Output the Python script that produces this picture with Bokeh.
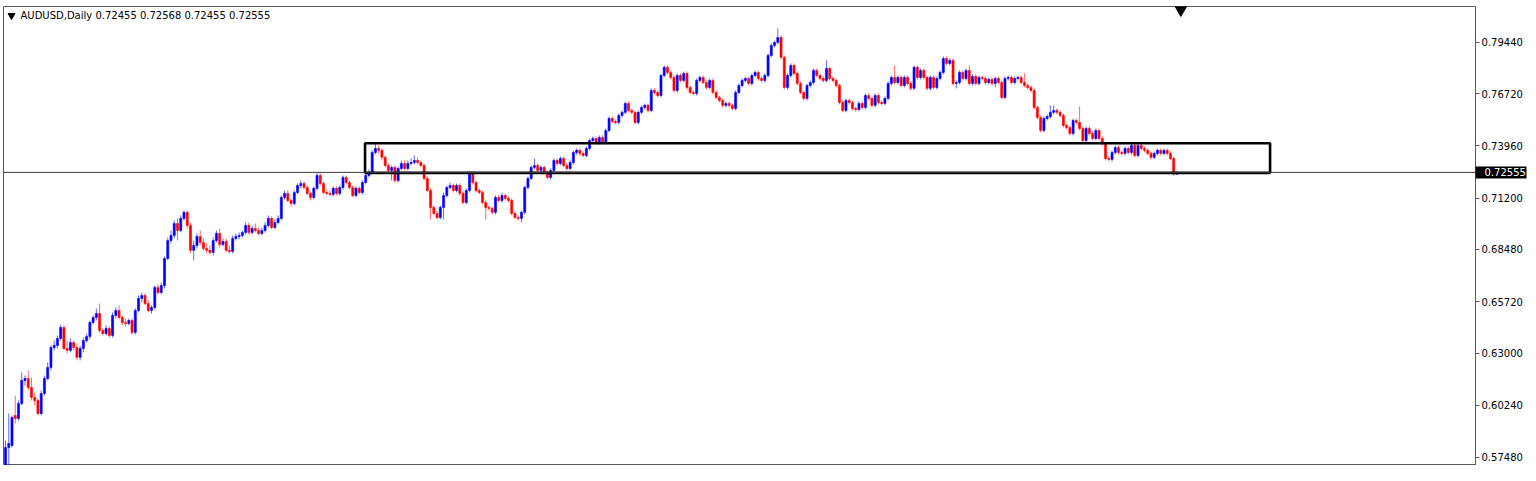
from bokeh.plotting import figure
from bokeh.models import Span, Label, FixedTicker, PrintfTickFormatter, Range1d, LinearAxis
from bokeh.embed import file_html
from bokeh.resources import INLINE

symbol = "AUDUSD,Daily"
last_ohlc = [0.72455, 0.72568, 0.72455, 0.72555]
price_ticks = [0.57480, 0.60240, 0.63000, 0.65720, 0.68480, 0.71200, 0.73960, 0.76720, 0.79440]
bid = 0.72555

opens = [
    0.5652, 0.5800, 0.5811, 0.5970, 0.5954, 0.6033, 0.6155, 0.6165, 0.6118, 0.6065,
    0.6049, 0.5980, 0.6086, 0.6165, 0.6224, 0.6329, 0.6340, 0.6377, 0.6435, 0.6324,
    0.6314, 0.6356, 0.6329, 0.6277, 0.6324, 0.6366, 0.6388, 0.6462, 0.6488, 0.6509,
    0.6419, 0.6403, 0.6430, 0.6393, 0.6499, 0.6525, 0.6488, 0.6462, 0.6456, 0.6472,
    0.6409, 0.6525, 0.6589, 0.6604, 0.6562, 0.6525, 0.6541, 0.6647, 0.6620, 0.6657,
    0.6800, 0.6895, 0.6922, 0.6985, 0.6948, 0.7012, 0.7044, 0.6975, 0.6843, 0.6869,
    0.6917, 0.6885, 0.6853, 0.6843, 0.6832, 0.6895, 0.6932, 0.6874, 0.6890, 0.6843,
    0.6837, 0.6906, 0.6917, 0.6922, 0.6938, 0.6975, 0.6938, 0.6959, 0.6948, 0.6932,
    0.6948, 0.6975, 0.7012, 0.6964, 0.6991, 0.7012, 0.7123, 0.7144, 0.7107, 0.7091,
    0.7149, 0.7186, 0.7197, 0.7176, 0.7144, 0.7123, 0.7171, 0.7239, 0.7197, 0.7149,
    0.7144, 0.7139, 0.7171, 0.7144, 0.7176, 0.7229, 0.7202, 0.7176, 0.7133, 0.7171,
    0.7149, 0.7202, 0.7239, 0.7255, 0.7361, 0.7382, 0.7372, 0.7335, 0.7292, 0.7266,
    0.7282, 0.7213, 0.7276, 0.7303, 0.7276, 0.7303, 0.7308, 0.7319, 0.7308, 0.7292,
    0.7223, 0.7160, 0.7070, 0.7038, 0.7017, 0.7070, 0.7133, 0.7176, 0.7186, 0.7160,
    0.7186, 0.7144, 0.7096, 0.7160, 0.7250, 0.7202, 0.7160, 0.7149, 0.7096, 0.7070,
    0.7065, 0.7044, 0.7123, 0.7107, 0.7133, 0.7118, 0.7107, 0.7038, 0.7017, 0.7012,
    0.7044, 0.7176, 0.7223, 0.7282, 0.7292, 0.7266, 0.7282, 0.7255, 0.7229, 0.7266,
    0.7319, 0.7303, 0.7329, 0.7292, 0.7276, 0.7308, 0.7361, 0.7372, 0.7356, 0.7345,
    0.7382, 0.7424, 0.7435, 0.7414, 0.7440, 0.7414, 0.7477, 0.7541, 0.7525, 0.7520,
    0.7557, 0.7573, 0.7620, 0.7583, 0.7573, 0.7520, 0.7573, 0.7599, 0.7610, 0.7583,
    0.7689, 0.7678, 0.7662, 0.7768, 0.7811, 0.7784, 0.7758, 0.7689, 0.7768, 0.7742,
    0.7779, 0.7705, 0.7678, 0.7673, 0.7742, 0.7758, 0.7731, 0.7705, 0.7742, 0.7678,
    0.7652, 0.7636, 0.7610, 0.7620, 0.7610, 0.7594, 0.7678, 0.7715, 0.7742, 0.7752,
    0.7726, 0.7768, 0.7784, 0.7752, 0.7742, 0.7768, 0.7874, 0.7927, 0.7943, 0.7969,
    0.7864, 0.7705, 0.7768, 0.7821, 0.7779, 0.7726, 0.7678, 0.7647, 0.7715, 0.7731,
    0.7795, 0.7768, 0.7752, 0.7742, 0.7805, 0.7752, 0.7742, 0.7715, 0.7625, 0.7583,
    0.7636, 0.7625, 0.7594, 0.7588, 0.7620, 0.7599, 0.7662, 0.7647, 0.7610, 0.7662,
    0.7625, 0.7620, 0.7647, 0.7726, 0.7758, 0.7731, 0.7758, 0.7715, 0.7758, 0.7726,
    0.7700, 0.7811, 0.7758, 0.7795, 0.7758, 0.7700, 0.7758, 0.7705, 0.7752, 0.7784,
    0.7858, 0.7832, 0.7848, 0.7726, 0.7731, 0.7784, 0.7752, 0.7795, 0.7726, 0.7763,
    0.7726, 0.7758, 0.7752, 0.7731, 0.7747, 0.7726, 0.7752, 0.7731, 0.7652, 0.7752,
    0.7758, 0.7731, 0.7752, 0.7758, 0.7731, 0.7715, 0.7705, 0.7689, 0.7599, 0.7546,
    0.7477, 0.7541, 0.7551, 0.7573, 0.7583, 0.7573, 0.7557, 0.7504, 0.7493, 0.7461,
    0.7530, 0.7520, 0.7488, 0.7424, 0.7488, 0.7461, 0.7435, 0.7477, 0.7435, 0.7409,
    0.7329, 0.7324, 0.7361, 0.7387, 0.7361, 0.7356, 0.7382, 0.7361, 0.7398, 0.7345,
    0.7398, 0.7382, 0.7372, 0.7356, 0.7335, 0.7356, 0.7372, 0.7356, 0.7372, 0.7356,
    0.7329, 0.72455,
]

highs = [
    0.5837, 0.5980, 0.5970, 0.6075, 0.6049, 0.6197, 0.6181, 0.6208, 0.6171, 0.6091,
    0.6060, 0.6102, 0.6181, 0.6250, 0.6340, 0.6366, 0.6393, 0.6451, 0.6446, 0.6366,
    0.6377, 0.6366, 0.6351, 0.6340, 0.6382, 0.6403, 0.6472, 0.6499, 0.6536, 0.6562,
    0.6430, 0.6446, 0.6441, 0.6515, 0.6541, 0.6552, 0.6499, 0.6483, 0.6483, 0.6483,
    0.6536, 0.6604, 0.6620, 0.6615, 0.6578, 0.6552, 0.6657, 0.6663, 0.6673, 0.6811,
    0.6911, 0.6948, 0.7001, 0.7012, 0.7028, 0.7054, 0.7054, 0.6991, 0.6895, 0.6932,
    0.6948, 0.6906, 0.6880, 0.6869, 0.6911, 0.6948, 0.6959, 0.6906, 0.6906, 0.6869,
    0.6922, 0.6932, 0.6938, 0.6948, 0.6991, 0.6991, 0.6975, 0.6985, 0.6964, 0.6964,
    0.6991, 0.7028, 0.7022, 0.7007, 0.7028, 0.7133, 0.7160, 0.7160, 0.7118, 0.7160,
    0.7197, 0.7213, 0.7208, 0.7186, 0.7155, 0.7181, 0.7255, 0.7250, 0.7208, 0.7165,
    0.7160, 0.7181, 0.7181, 0.7186, 0.7239, 0.7239, 0.7213, 0.7186, 0.7181, 0.7181,
    0.7213, 0.7250, 0.7271, 0.7372, 0.7409, 0.7398, 0.7382, 0.7345, 0.7303, 0.7292,
    0.7292, 0.7287, 0.7319, 0.7319, 0.7319, 0.7329, 0.7345, 0.7335, 0.7319, 0.7303,
    0.7234, 0.7171, 0.7081, 0.7054, 0.7081, 0.7149, 0.7186, 0.7202, 0.7197, 0.7197,
    0.7197, 0.7155, 0.7171, 0.7260, 0.7260, 0.7213, 0.7171, 0.7160, 0.7107, 0.7081,
    0.7075, 0.7133, 0.7139, 0.7149, 0.7144, 0.7128, 0.7118, 0.7049, 0.7028, 0.7054,
    0.7186, 0.7234, 0.7292, 0.7329, 0.7303, 0.7292, 0.7292, 0.7266, 0.7276, 0.7329,
    0.7329, 0.7340, 0.7340, 0.7303, 0.7319, 0.7372, 0.7382, 0.7382, 0.7366, 0.7393,
    0.7435, 0.7446, 0.7446, 0.7451, 0.7451, 0.7488, 0.7551, 0.7551, 0.7536, 0.7567,
    0.7583, 0.7631, 0.7631, 0.7594, 0.7583, 0.7583, 0.7610, 0.7620, 0.7620, 0.7700,
    0.7700, 0.7689, 0.7779, 0.7821, 0.7821, 0.7795, 0.7768, 0.7779, 0.7779, 0.7789,
    0.7789, 0.7715, 0.7689, 0.7752, 0.7768, 0.7768, 0.7742, 0.7752, 0.7752, 0.7689,
    0.7662, 0.7647, 0.7631, 0.7631, 0.7620, 0.7689, 0.7726, 0.7752, 0.7763, 0.7763,
    0.7779, 0.7795, 0.7795, 0.7763, 0.7779, 0.7885, 0.7938, 0.7953, 0.8017, 0.7980,
    0.7874, 0.7779, 0.7832, 0.7832, 0.7789, 0.7737, 0.7689, 0.7726, 0.7742, 0.7805,
    0.7805, 0.7779, 0.7763, 0.7848, 0.7816, 0.7763, 0.7752, 0.7726, 0.7636, 0.7647,
    0.7647, 0.7636, 0.7604, 0.7631, 0.7631, 0.7673, 0.7673, 0.7657, 0.7673, 0.7673,
    0.7636, 0.7657, 0.7737, 0.7768, 0.7821, 0.7768, 0.7768, 0.7768, 0.7768, 0.7737,
    0.7821, 0.7821, 0.7805, 0.7805, 0.7768, 0.7768, 0.7768, 0.7763, 0.7795, 0.7869,
    0.7869, 0.7858, 0.7858, 0.7742, 0.7795, 0.7795, 0.7805, 0.7821, 0.7774, 0.7774,
    0.7768, 0.7768, 0.7763, 0.7758, 0.7758, 0.7763, 0.7763, 0.7742, 0.7763, 0.7768,
    0.7768, 0.7763, 0.7768, 0.7768, 0.7779, 0.7726, 0.7715, 0.7700, 0.7610, 0.7557,
    0.7551, 0.7562, 0.7610, 0.7610, 0.7594, 0.7583, 0.7567, 0.7514, 0.7504, 0.7541,
    0.7541, 0.7604, 0.7499, 0.7499, 0.7499, 0.7472, 0.7488, 0.7488, 0.7446, 0.7419,
    0.7340, 0.7372, 0.7398, 0.7398, 0.7372, 0.7393, 0.7393, 0.7409, 0.7409, 0.7409,
    0.7409, 0.7393, 0.7382, 0.7366, 0.7366, 0.7382, 0.7382, 0.7382, 0.7382, 0.7366,
    0.7340, 0.72568,
]

lows = [
    0.5636, 0.5705, 0.5800, 0.5927, 0.5943, 0.6023, 0.6128, 0.6102, 0.6049, 0.6023,
    0.5970, 0.5970, 0.6075, 0.6155, 0.6208, 0.6314, 0.6324, 0.6366, 0.6314, 0.6298,
    0.6303, 0.6314, 0.6261, 0.6261, 0.6303, 0.6356, 0.6372, 0.6451, 0.6472, 0.6409,
    0.6393, 0.6393, 0.6382, 0.6382, 0.6483, 0.6478, 0.6446, 0.6441, 0.6446, 0.6398,
    0.6398, 0.6515, 0.6567, 0.6552, 0.6515, 0.6509, 0.6530, 0.6610, 0.6610, 0.6642,
    0.6790, 0.6880, 0.6906, 0.6895, 0.6938, 0.7001, 0.6959, 0.6827, 0.6790, 0.6853,
    0.6869, 0.6843, 0.6827, 0.6821, 0.6816, 0.6885, 0.6858, 0.6864, 0.6832, 0.6827,
    0.6827, 0.6895, 0.6901, 0.6911, 0.6927, 0.6927, 0.6927, 0.6938, 0.6922, 0.6922,
    0.6938, 0.6964, 0.6954, 0.6954, 0.6980, 0.7001, 0.7112, 0.7096, 0.7075, 0.7081,
    0.7139, 0.7171, 0.7165, 0.7133, 0.7107, 0.7112, 0.7160, 0.7186, 0.7139, 0.7133,
    0.7128, 0.7128, 0.7133, 0.7133, 0.7165, 0.7192, 0.7165, 0.7123, 0.7123, 0.7139,
    0.7139, 0.7192, 0.7229, 0.7245, 0.7350, 0.7356, 0.7319, 0.7282, 0.7255, 0.7213,
    0.7202, 0.7202, 0.7266, 0.7266, 0.7266, 0.7292, 0.7297, 0.7297, 0.7282, 0.7213,
    0.7149, 0.7007, 0.7028, 0.7007, 0.7007, 0.7007, 0.7123, 0.7165, 0.7149, 0.7149,
    0.7133, 0.7086, 0.7086, 0.7149, 0.7192, 0.7149, 0.7139, 0.7086, 0.7007, 0.7054,
    0.7033, 0.7033, 0.7096, 0.7096, 0.7107, 0.7096, 0.7028, 0.7007, 0.7001, 0.6991,
    0.7033, 0.7165, 0.7213, 0.7271, 0.7255, 0.7255, 0.7245, 0.7218, 0.7218, 0.7255,
    0.7292, 0.7292, 0.7282, 0.7266, 0.7266, 0.7297, 0.7350, 0.7345, 0.7335, 0.7335,
    0.7372, 0.7414, 0.7403, 0.7403, 0.7403, 0.7403, 0.7467, 0.7514, 0.7509, 0.7509,
    0.7546, 0.7562, 0.7573, 0.7562, 0.7509, 0.7509, 0.7562, 0.7588, 0.7573, 0.7573,
    0.7668, 0.7652, 0.7652, 0.7758, 0.7774, 0.7747, 0.7678, 0.7678, 0.7731, 0.7731,
    0.7694, 0.7668, 0.7662, 0.7662, 0.7731, 0.7721, 0.7694, 0.7694, 0.7668, 0.7641,
    0.7625, 0.7599, 0.7599, 0.7599, 0.7583, 0.7583, 0.7668, 0.7705, 0.7731, 0.7715,
    0.7715, 0.7758, 0.7742, 0.7731, 0.7731, 0.7758, 0.7864, 0.7916, 0.7932, 0.7853,
    0.7694, 0.7694, 0.7758, 0.7768, 0.7715, 0.7668, 0.7636, 0.7636, 0.7705, 0.7721,
    0.7758, 0.7742, 0.7731, 0.7731, 0.7742, 0.7731, 0.7705, 0.7615, 0.7573, 0.7573,
    0.7615, 0.7583, 0.7578, 0.7578, 0.7588, 0.7588, 0.7636, 0.7599, 0.7599, 0.7615,
    0.7610, 0.7610, 0.7636, 0.7715, 0.7721, 0.7721, 0.7705, 0.7705, 0.7715, 0.7689,
    0.7689, 0.7747, 0.7747, 0.7747, 0.7689, 0.7689, 0.7694, 0.7694, 0.7742, 0.7774,
    0.7821, 0.7821, 0.7715, 0.7700, 0.7721, 0.7742, 0.7742, 0.7715, 0.7715, 0.7715,
    0.7715, 0.7742, 0.7721, 0.7721, 0.7715, 0.7705, 0.7721, 0.7641, 0.7641, 0.7742,
    0.7721, 0.7721, 0.7742, 0.7721, 0.7705, 0.7694, 0.7678, 0.7588, 0.7536, 0.7467,
    0.7467, 0.7530, 0.7541, 0.7562, 0.7562, 0.7546, 0.7493, 0.7483, 0.7451, 0.7451,
    0.7509, 0.7477, 0.7414, 0.7414, 0.7451, 0.7424, 0.7424, 0.7424, 0.7398, 0.7319,
    0.7313, 0.7313, 0.7350, 0.7350, 0.7345, 0.7345, 0.7350, 0.7350, 0.7335, 0.7335,
    0.7372, 0.7361, 0.7345, 0.7324, 0.7324, 0.7345, 0.7345, 0.7345, 0.7345, 0.7319,
    0.7239, 0.72455,
]

closes = [
    0.5800, 0.5822, 0.5959, 0.5954, 0.6033, 0.6155, 0.6165, 0.6118, 0.6065, 0.6049,
    0.5980, 0.6086, 0.6165, 0.6224, 0.6329, 0.6340, 0.6377, 0.6435, 0.6324, 0.6314,
    0.6356, 0.6329, 0.6277, 0.6324, 0.6366, 0.6388, 0.6462, 0.6488, 0.6509, 0.6419,
    0.6403, 0.6430, 0.6393, 0.6499, 0.6525, 0.6488, 0.6462, 0.6456, 0.6472, 0.6409,
    0.6525, 0.6589, 0.6604, 0.6562, 0.6525, 0.6541, 0.6647, 0.6620, 0.6657, 0.6800,
    0.6895, 0.6922, 0.6985, 0.6948, 0.7012, 0.7044, 0.6975, 0.6843, 0.6869, 0.6917,
    0.6885, 0.6853, 0.6843, 0.6832, 0.6895, 0.6932, 0.6874, 0.6890, 0.6843, 0.6837,
    0.6906, 0.6917, 0.6922, 0.6938, 0.6975, 0.6938, 0.6959, 0.6948, 0.6932, 0.6948,
    0.6975, 0.7012, 0.6964, 0.6991, 0.7012, 0.7123, 0.7144, 0.7107, 0.7091, 0.7149,
    0.7186, 0.7197, 0.7176, 0.7144, 0.7123, 0.7171, 0.7239, 0.7197, 0.7149, 0.7144,
    0.7139, 0.7171, 0.7144, 0.7176, 0.7229, 0.7202, 0.7176, 0.7133, 0.7171, 0.7149,
    0.7202, 0.7239, 0.7255, 0.7361, 0.7382, 0.7372, 0.7335, 0.7292, 0.7266, 0.7282,
    0.7213, 0.7276, 0.7303, 0.7276, 0.7303, 0.7308, 0.7319, 0.7308, 0.7292, 0.7223,
    0.7160, 0.7070, 0.7038, 0.7017, 0.7070, 0.7133, 0.7176, 0.7186, 0.7160, 0.7186,
    0.7144, 0.7096, 0.7160, 0.7250, 0.7202, 0.7160, 0.7149, 0.7096, 0.7070, 0.7065,
    0.7044, 0.7123, 0.7107, 0.7133, 0.7118, 0.7107, 0.7038, 0.7017, 0.7012, 0.7044,
    0.7176, 0.7223, 0.7282, 0.7292, 0.7266, 0.7282, 0.7255, 0.7229, 0.7266, 0.7319,
    0.7303, 0.7329, 0.7292, 0.7276, 0.7308, 0.7361, 0.7372, 0.7356, 0.7345, 0.7382,
    0.7424, 0.7435, 0.7414, 0.7440, 0.7414, 0.7477, 0.7541, 0.7525, 0.7520, 0.7557,
    0.7573, 0.7620, 0.7583, 0.7573, 0.7520, 0.7573, 0.7599, 0.7610, 0.7583, 0.7689,
    0.7678, 0.7662, 0.7768, 0.7811, 0.7784, 0.7758, 0.7689, 0.7768, 0.7742, 0.7779,
    0.7705, 0.7678, 0.7673, 0.7742, 0.7758, 0.7731, 0.7705, 0.7742, 0.7678, 0.7652,
    0.7636, 0.7610, 0.7620, 0.7610, 0.7594, 0.7678, 0.7715, 0.7742, 0.7752, 0.7726,
    0.7768, 0.7784, 0.7752, 0.7742, 0.7768, 0.7874, 0.7927, 0.7943, 0.7969, 0.7864,
    0.7705, 0.7768, 0.7821, 0.7779, 0.7726, 0.7678, 0.7647, 0.7715, 0.7731, 0.7795,
    0.7768, 0.7752, 0.7742, 0.7805, 0.7752, 0.7742, 0.7715, 0.7625, 0.7583, 0.7636,
    0.7625, 0.7594, 0.7588, 0.7620, 0.7599, 0.7662, 0.7647, 0.7610, 0.7662, 0.7625,
    0.7620, 0.7647, 0.7726, 0.7758, 0.7731, 0.7758, 0.7715, 0.7758, 0.7726, 0.7700,
    0.7811, 0.7758, 0.7795, 0.7758, 0.7700, 0.7758, 0.7705, 0.7752, 0.7784, 0.7858,
    0.7832, 0.7848, 0.7726, 0.7731, 0.7784, 0.7752, 0.7795, 0.7726, 0.7763, 0.7726,
    0.7758, 0.7752, 0.7731, 0.7747, 0.7726, 0.7752, 0.7731, 0.7652, 0.7752, 0.7758,
    0.7731, 0.7752, 0.7758, 0.7731, 0.7715, 0.7705, 0.7689, 0.7599, 0.7546, 0.7477,
    0.7541, 0.7551, 0.7573, 0.7583, 0.7573, 0.7557, 0.7504, 0.7493, 0.7461, 0.7530,
    0.7520, 0.7488, 0.7424, 0.7488, 0.7461, 0.7435, 0.7477, 0.7435, 0.7409, 0.7329,
    0.7324, 0.7361, 0.7387, 0.7361, 0.7356, 0.7382, 0.7361, 0.7398, 0.7345, 0.7398,
    0.7382, 0.7372, 0.7356, 0.7335, 0.7356, 0.7372, 0.7356, 0.7372, 0.7356, 0.7329,
    0.7246, 0.72555,
]

# drawn rectangle (zone) anchored to bar numbers and prices
zone_start_bar = 110.8
zone_end_bar = 389.7
zone_top = 0.7410
zone_bottom = 0.7253
chart_shift_bar = 362.2

N = min(len(opens), len(highs), len(lows), len(closes))
idx = list(range(N))
o, h, l, c = opens[:N], highs[:N], lows[:N], closes[:N]
colors = ["#0000FF" if cc >= oo else "#FF0000" for oo, cc in zip(o, c)]
body_top = [max(oo, cc) for oo, cc in zip(o, c)]
body_bot = [min(oo, cc) for oo, cc in zip(o, c)]

FRAME_W, FRAME_H = 1472, 459
bar_px = 3.245
x_start = -2.0 / bar_px
x_end = x_start + FRAME_W / bar_px
y_start, y_end = 0.5705, 0.8133
ypp = (y_end - y_start) / FRAME_H

p = figure(frame_width=FRAME_W, frame_height=FRAME_H,
           x_range=Range1d(x_start, x_end), y_range=Range1d(y_start, y_end),
           output_backend="svg", toolbar_location=None,
           x_axis_location=None, y_axis_location="right",
           min_border_left=3, min_border_top=6, min_border_bottom=0, min_border_right=52)
p.xgrid.visible = False
p.ygrid.visible = False
p.outline_line_color = "#5a5a5a"
p.outline_line_width = 1
p.background_fill_color = "white"
p.border_fill_color = "white"

ax = p.yaxis[0]
# minor tick at the bid price is drawn as the black price box
ax.ticker = FixedTicker(ticks=price_ticks, minor_ticks=[bid])
ax.formatter = PrintfTickFormatter(format="%.5f")
ax.major_label_text_font = "DejaVu Sans"
ax.major_label_text_font_size = "10px"
ax.major_label_text_color = "#000000"
ax.major_tick_in = 0
ax.major_tick_out = 4
ax.minor_tick_in = 0
ax.minor_tick_out = 51
ax.minor_tick_line_width = 12
ax.minor_tick_line_color = "black"
ax.axis_line_color = "#5a5a5a"
ax.major_tick_line_color = "#5a5a5a"
ax.major_label_standoff = -45

# second right axis carrying only the bid price label, pulled back over the black box
bid_axis = LinearAxis(ticker=FixedTicker(ticks=[bid], minor_ticks=[]),
                      formatter=PrintfTickFormatter(format="%.5f"),
                      major_tick_in=0, major_tick_out=0, minor_tick_in=0, minor_tick_out=0,
                      axis_line_color=None, major_tick_line_color=None, minor_tick_line_color=None,
                      major_label_text_color="white", major_label_text_font="DejaVu Sans",
                      major_label_text_font_size="10px", major_label_standoff=-41)
p.add_layout(bid_axis, "right")

p.add_layout(Span(location=bid, dimension="width", line_color="#3a3a3a", line_width=1))

p.segment(x0=idx, y0=l, x1=idx, y1=h, line_color=colors, line_width=1, line_alpha=0.6)
p.vbar(x=idx, top=body_top, bottom=body_bot, width=0.64,
       fill_color=colors, line_color=colors, line_width=0.6)

p.quad(left=[zone_start_bar], right=[zone_end_bar], top=[zone_top], bottom=[zone_bottom],
       fill_alpha=0, line_color="black", line_width=2.6)

# chart shift marker and title marker
p.scatter(x=[chart_shift_bar], y=[y_end - 3 * ypp], marker="inverted_triangle",
          size=12, fill_color="black", line_color="black")
p.scatter(x=[x_start + 8 / bar_px], y=[y_end - 9 * ypp], marker="inverted_triangle",
          size=7, fill_color="black", line_color="black")

title_text = symbol + "  " + " ".join(f"{v:.5f}" for v in last_ohlc)
p.add_layout(Label(x=x_start, y=y_end - 9 * ypp, x_offset=17, text=title_text,
                   text_baseline="middle", text_align="left",
                   text_font="DejaVu Sans", text_font_size="10px", text_color="#000000"))

open("out.html", "w").write(file_html(p, INLINE))
